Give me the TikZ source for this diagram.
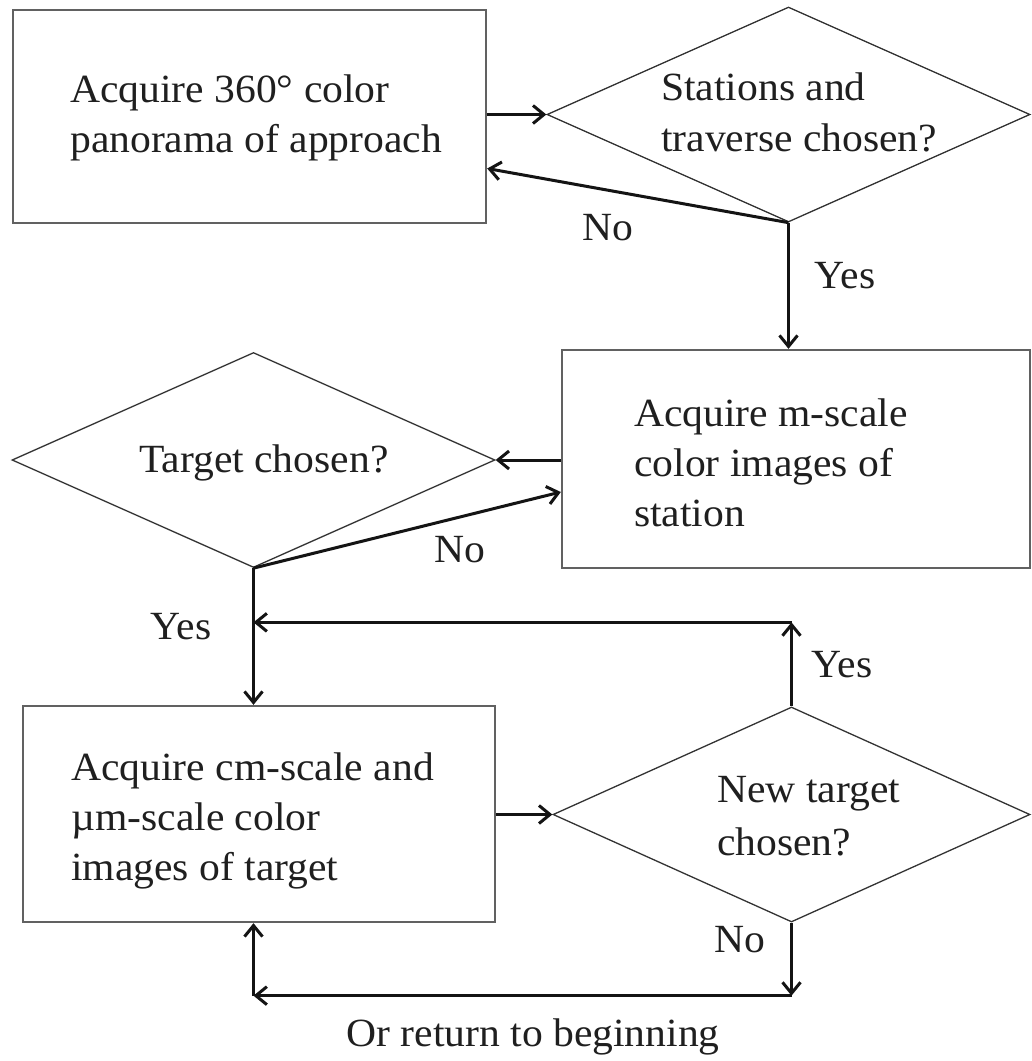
\documentclass[tikz,border=0pt]{standalone}
\usepackage{fontspec}
\setmainfont[FakeStretch=1.04]{Liberation Serif}
\usetikzlibrary{shapes.geometric,arrows.meta,calc}
\begin{document}
\begin{tikzpicture}[x=1pt,y=-1pt,
  every node/.style={font=\fontsize{40}{50}\selectfont, text=black!88},
  procbox/.style={draw=black!62, line width=2.4pt, rectangle, inner sep=0pt},
  decide/.style={draw=black!80, line width=1.3pt, diamond, inner sep=0pt, aspect=2.25},
  txt/.style={inner sep=0pt, align=left, anchor=north west},
  arr/.style={line width=3pt, draw=black!92, -{Straight Barb[length=11pt,width=18pt,line width=3pt]}},
  lbl/.style={inner sep=0pt}
]
\useasboundingbox (0,0) rectangle (1032,1061);
\fill[white] (0,0) rectangle (1032,1061);

% boxes
\node[procbox, minimum width=473pt, minimum height=213pt] (b1) at (249.5,116.5) {};
\node[procbox, minimum width=468pt, minimum height=218pt] (b2) at (796,459) {};
\node[procbox, minimum width=472pt, minimum height=216pt] (b3) at (259,814) {};

% diamonds
\node[decide, minimum width=483pt, minimum height=215pt] (d1) at (788.5,114.5) {};
\node[decide, minimum width=483pt, minimum height=215pt] (d2) at (253.5,460) {};
\node[decide, minimum width=477pt, minimum height=215pt] (d3) at (791.5,814.5) {};

% texts
\node[txt] (t1) at (70,75) {Acquire 360° color\\panorama of approach};
\node[txt] (t2) at (661,73) {Stations and\\[1pt]traverse chosen?};
\node[txt] (t3) at (634,399) {Acquire m-scale\\color images of\\station};
\node[inner sep=0pt, anchor=base west] (t4) at (139,472) {Target chosen?};
\node[txt] (t5) at (71,753) {Acquire cm-scale and\\µm-scale color\\images of target};
\node[txt] (t6) at (717,776) {New target\\[3pt]chosen?};

% connectors
\draw[arr] (b1.east |- d1.west) -- (d1.west);
\draw[arr] (d1.south) -- ($(b1.east)+(0,52)$);
\draw[arr] (d1.south) -- (d1.south |- b2.north);
\draw[arr] (b2.west |- d2.east) -- (d2.east);
\draw[arr] (d2.south) -- ($(b2.west)+(0,33)$);
\draw[arr] (d2.south) -- (d2.south |- b3.north);
\draw[arr] (b3.east |- d3.west) -- (d3.west);

\coordinate (up1) at ($(d3.north)+(0,-84)$);
\draw[arr] (d3.north) -- (up1);
\draw[arr] (up1) -- (d2.south |- up1);

\coordinate (dn1) at ($(d3.south)+(0,73)$);
\coordinate (dn2) at (d2.south |- dn1);
\draw[arr] (d3.south) -- (dn1);
\draw[arr] (dn1) -- (dn2);
\draw[arr] (dn2) -- (dn2 |- b3.south);

% labels
\node[lbl] (l1) at (608,228) {No};
\node[lbl] (l2) at (845,276) {Yes};
\node[lbl] (l3) at (460,550) {No};
\node[lbl] (l4) at (181,627) {Yes};
\node[lbl] (l5) at (842,665) {Yes};
\node[lbl] (l6) at (740,940) {No};
\node[lbl] (l7) at (533,1037) {Or return to beginning};
\end{tikzpicture}
\end{document}
